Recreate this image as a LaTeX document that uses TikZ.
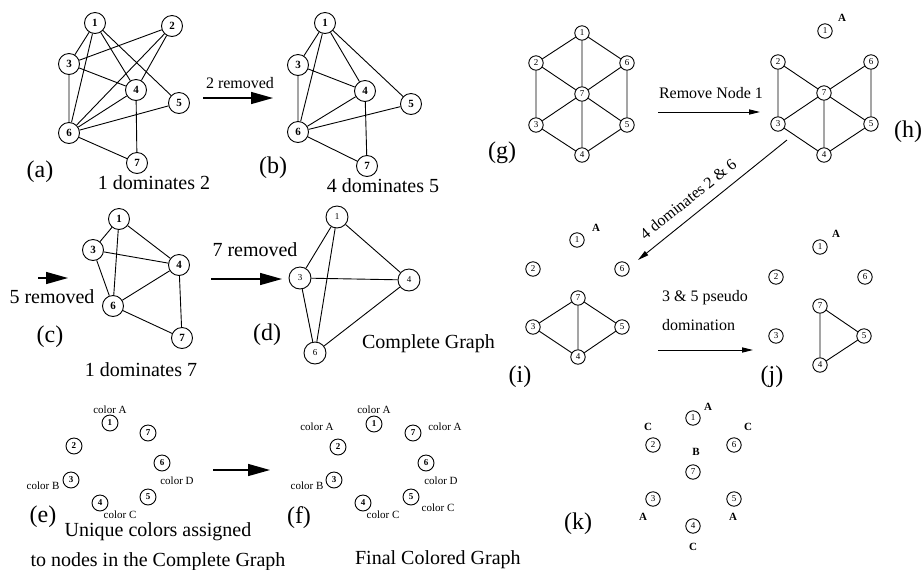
\documentclass[tikz,border=0pt]{standalone}
\usepackage{fontspec}
\setmainfont{Liberation Serif}
\usetikzlibrary{arrows.meta}

\begin{document}
\begin{tikzpicture}[x=0.5pt,y=-0.5pt,line width=0.45pt,
  nd/.style={circle,draw,minimum size=10.5pt,inner sep=0pt,font=\fontsize{5.5}{6}\selectfont\bfseries},
  ndd/.style={circle,draw,minimum size=11pt,inner sep=0pt,font=\fontsize{4.5}{5}\selectfont},
  ndc/.style={circle,draw,minimum size=8pt,inner sep=0pt,font=\fontsize{4.5}{5}\selectfont\bfseries},
  ndh/.style={circle,draw,minimum size=7.2pt,inner sep=0pt,font=\fontsize{4.5}{5}\selectfont},
  bigarr/.style={line width=0.7pt,-{Triangle[length=11pt,width=6pt]}},
  smlarr/.style={line width=0.45pt,-{Triangle[length=5.5pt,width=2.6pt]}},
  captxt/.style={font=\fontsize{10}{12}\selectfont},
  panel/.style={font=\fontsize{12}{14}\selectfont},
  note/.style={font=\fontsize{8}{9.5}\selectfont},
  clr/.style={font=\fontsize{5.5}{6}\selectfont},
  ltr/.style={font=\fontsize{5.5}{6}\selectfont\bfseries}]
  \useasboundingbox (0,0) rectangle (923,569);

  \node[nd] (a1) at (95,23) {1};   \node[nd] (a2) at (172,26) {2};
  \node[nd] (a3) at (69,64) {3};   \node[nd] (a4) at (136,90) {4};
  \node[nd] (a5) at (179,103) {5}; \node[nd] (a6) at (69,133) {6};
  \node[nd] (a7) at (137,163) {7};
  \draw (a1)--(a3) (a1)--(a6) (a1)--(a4) (a1)--(a5) (a2)--(a3) (a2)--(a6) (a2)--(a4)
    (a3)--(a4) (a3)--(a6) (a6)--(a4) (a6)--(a5) (a6)--(a7) (a4)--(a7);
  \node[panel] (la) at (40,172) {(a)};
  \node[captxt] (ca) at (154,183) {1 dominates 2};

  \coordinate (ab1) at (203,98);
  \coordinate (ab2) at (273,98);
  \draw[bigarr] (ab1) -- (ab2);
  \node[note] (tab) at (240,83) {2 removed};

  \node[nd] (b1) at (325,23) {1};  \node[nd] (b3) at (298,65) {3};
  \node[nd] (b4) at (365,91) {4};  \node[nd] (b5) at (411,104) {5};
  \node[nd] (b6) at (298,132) {6}; \node[nd] (b7) at (367,166) {7};
  \draw (b1)--(b3) (b1)--(b6) (b1)--(b4) (b1)--(b5) (b3)--(b4) (b3)--(b6)
    (b6)--(b4) (b6)--(b5) (b6)--(b7) (b4)--(b7);
  \node[panel] (lb) at (273,168) {(b)};
  \node[captxt] (cb) at (383,186) {4 dominates 5};

  \coordinate (bc1) at (38,278);
  \coordinate (bc2) at (68,278);
  \draw[bigarr] (bc1) -- (bc2);
  \node[captxt] (tbc) at (52,297) {5 removed};

  \node[nd] (c1) at (119,219) {1}; \node[nd] (c3) at (93,250) {3};
  \node[nd] (c4) at (179,265) {4}; \node[nd] (c6) at (113,306) {6};
  \node[nd] (c7) at (182,338) {7};
  \draw (c1)--(c3) (c1)--(c6) (c1)--(c4) (c3)--(c4) (c3)--(c6) (c6)--(c4)
    (c6)--(c7) (c4)--(c7);
  \node[panel] (lc) at (50,337) {(c)};
  \node[captxt] (cc) at (141,370) {1 dominates 7};

  \coordinate (cd1) at (211,279);
  \coordinate (cd2) at (282,279);
  \draw[bigarr] (cd1) -- (cd2);
  \node[captxt] (tcd) at (255,250) {7 removed};

  \node[ndd] (d1) at (337,217) {1}; \node[ndd] (d3) at (300,278) {3};
  \node[ndd] (d4) at (409,280) {4}; \node[ndd] (d6) at (315,353) {6};
  \draw (d1)--(d3) (d1)--(d6) (d1)--(d4) (d3)--(d4) (d3)--(d6) (d6)--(d4);
  \node[panel] (ld) at (267,335) {(d)};
  \node[captxt,anchor=west] (cd) at (355,344) {Complete Graph};

  \node[ndc] (e1) at (110,423) {1}; \node[ndc] (e7) at (148,433) {7};
  \node[ndc] (e2) at (74,446) {2};  \node[ndc] (e6) at (162,463) {6};
  \node[ndc] (e3) at (71,480) {3};  \node[ndc] (e5) at (148,497) {5};
  \node[ndc] (e4) at (100,503) {4};
  \node[clr] (ea) at (110,410) {color A};
  \node[clr] (eb) at (43,486) {color B};
  \node[clr] (ed) at (177,481) {color D};
  \node[clr] (ec) at (120,515) {color C};
  \node[panel] (le) at (43,517) {(e)};
  \node[captxt,align=center] (ce) at (158,547) {Unique colors assigned\\[3pt]to nodes in the Complete Graph};

  \coordinate (ef1) at (213,470);
  \coordinate (ef2) at (270,470);
  \draw[bigarr] (ef1) -- (ef2);

  \node[ndc] (f1) at (374,424) {1}; \node[ndc] (f7) at (413,433) {7};
  \node[ndc] (f2) at (338,447) {2}; \node[ndc] (f6) at (426,463) {6};
  \node[ndc] (f3) at (334,480) {3}; \node[ndc] (f5) at (411,497) {5};
  \node[ndc] (f4) at (363,503) {4};
  \node[clr] (fa1) at (374,410) {color A};
  \node[clr] (fa2) at (317,427) {color A};
  \node[clr] (fa7) at (445,427) {color A};
  \node[clr] (fb) at (307,486) {color B};
  \node[clr] (fd) at (441,481) {color D};
  \node[clr] (fc4) at (383,515) {color C};
  \node[clr] (fc5) at (438,508) {color C};
  \node[panel] (lf) at (299,518) {(f)};
  \node[captxt,anchor=west] (cf) at (348,560) {Final Colored Graph};

  \node[ndh] (g1) at (582,33) {1};  \node[ndh] (g2) at (536,63) {2};
  \node[ndh] (g6) at (627,63) {6};  \node[ndh] (g7) at (582,94) {7};
  \node[ndh] (g3) at (536,125) {3}; \node[ndh] (g5) at (627,125) {5};
  \node[ndh] (g4) at (582,155) {4};
  \draw (g1)--(g2) (g1)--(g6) (g1)--(g7) (g2)--(g3) (g2)--(g7) (g6)--(g7) (g6)--(g5)
    (g7)--(g3) (g7)--(g5) (g7)--(g4) (g3)--(g4) (g5)--(g4);
  \node[panel] (lg) at (502,153) {(g)};

  \coordinate (gh1) at (658,112);
  \coordinate (gh2) at (760,112);
  \draw[smlarr] (gh1) -- (gh2);
  \node[note] (tgh) at (711,93) {Remove Node 1};

  \node[ndh] (h1) at (825,31) {1};  \node[ltr] (ha) at (842,18) {A};
  \node[ndh] (h2) at (778,62) {2};  \node[ndh] (h6) at (871,62) {6};
  \node[ndh] (h7) at (824,93) {7};  \node[ndh] (h3) at (778,124) {3};
  \node[ndh] (h5) at (871,124) {5}; \node[ndh] (h4) at (824,155) {4};
  \draw (h2)--(h3) (h2)--(h7) (h6)--(h7) (h6)--(h5) (h7)--(h3) (h7)--(h5)
    (h7)--(h4) (h3)--(h4) (h5)--(h4);
  \node[panel] (lh) at (908,132) {(h)};

  \coordinate (hi1) at (787,140);
  \coordinate (hi2) at (638,260);
  \draw[smlarr] (hi1) -- (hi2);
  \node[note,rotate=38.8] (thi) at (688,199) {4 dominates 2 \& 6};

  \node[ndh] (i1) at (577,240) {1}; \node[ltr] (ia) at (596,228) {A};
  \node[ndh] (i2) at (533,269) {2}; \node[ndh] (i6) at (622,269) {6};
  \node[ndh] (i7) at (578,298) {7}; \node[ndh] (i3) at (533,327) {3};
  \node[ndh] (i5) at (622,327) {5}; \node[ndh] (i4) at (578,357) {4};
  \draw (i7)--(i3) (i7)--(i5) (i7)--(i4) (i3)--(i4) (i5)--(i4);
  \node[panel] (li) at (520,377) {(i)};

  \coordinate (ij1) at (658,350);
  \coordinate (ij2) at (753,350);
  \draw[smlarr] (ij1) -- (ij2);
  \node[note,anchor=west] (tij1) at (655,298) {3 \& 5 pseudo};
  \node[note,anchor=west] (tij2) at (655,325) {domination};

  \node[ndh] (j1) at (820,247) {1}; \node[ltr] (ja) at (836,234) {A};
  \node[ndh] (j2) at (776,277) {2}; \node[ndh] (j6) at (865,277) {6};
  \node[ndh] (j7) at (820,306) {7}; \node[ndh] (j3) at (776,336) {3};
  \node[ndh] (j5) at (864,336) {5}; \node[ndh] (j4) at (820,365) {4};
  \draw (j7)--(j4) (j7)--(j5) (j4)--(j5);
  \node[panel] (lj) at (772,377) {(j)};

  \node[ndh] (k1) at (693,418) {1}; \node[ltr] (ka1) at (708,407) {A};
  \node[ndh] (k2) at (653,445) {2}; \node[ltr] (kc2) at (648,427) {C};
  \node[ndh] (k6) at (734,445) {6}; \node[ltr] (kc6) at (748,427) {C};
  \node[ltr] (kb7) at (696,452) {B};
  \node[ndh] (k7) at (693,472) {7};
  \node[ndh] (k3) at (653,499) {3}; \node[ltr] (ka3) at (643,517) {A};
  \node[ndh] (k5) at (734,499) {5}; \node[ltr] (ka5) at (733,517) {A};
  \node[ndh] (k4) at (693,526) {4}; \node[ltr] (kc4) at (693,547) {C};
  \node[panel] (lk) at (578,524) {(k)};
\end{tikzpicture}
\end{document}
